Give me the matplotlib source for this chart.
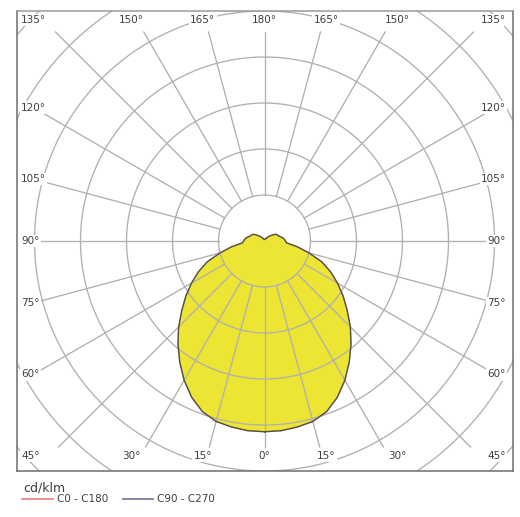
import numpy as np
import matplotlib
matplotlib.use("Agg")
import matplotlib.pyplot as plt
from matplotlib.lines import Line2D

# photometric data, cd/klm, gamma measured from nadir
GAMMA = list(range(0, 185, 5))
C0_C180 = [311, 310.5, 308, 304.5, 296, 281, 262, 241, 219.5, 198, 176,
           156.5, 137.5, 119, 99.5, 75, 54.5, 36.5, 34, 32.5, 30, 27, 24.5,
           23, 22, 18, 14, 11, 8, 6.5, 5, 4, 3, 2.5, 2.5, 2.5, 2.5]
C90_C270 = [311, 310.5, 308, 305, 296.5, 281.5, 262.5, 241, 219.5, 198, 176,
            156.5, 137.5, 119, 99.5, 75, 54.5, 36.5, 34, 32.5, 30, 27, 24.5,
            23, 22, 18, 14, 11, 8, 6.5, 5, 4, 3, 2.5, 2.5, 2.5, 2.5]
RINGS = [75, 150, 225, 300, 375, 450, 525, 600]
ANGLE_STEP = 15

PX = 75 / 46.0  # cd/klm per pixel
GRID = "#b0b0b0"
TEXT = "#3e3e3e"


def curve_xy(gamma, values):
    g = np.radians(gamma)
    v = np.asarray(values, dtype=float)
    x = np.concatenate([v * np.sin(g), (-v * np.sin(g))[::-1]])
    y = np.concatenate([-v * np.cos(g), (-v * np.cos(g))[::-1]])
    return x, y


def ray_end(sx, sy, half_w_left, half_w_right, top, bottom):
    ts = []
    if sx > 1e-9:
        ts.append(half_w_right / sx)
    if sx < -1e-9:
        ts.append(half_w_left / -sx)
    if sy > 1e-9:
        ts.append(top / sy)
    if sy < -1e-9:
        ts.append(bottom / -sy)
    return min(ts)


fig = plt.figure(figsize=(5.2, 5.17), dpi=100)
ax = fig.add_axes([17 / 520, 46 / 517, 496 / 520, 460 / 517])
ax.set_xlim(-247.5 * PX, 248.5 * PX)
ax.set_ylim(-230 * PX, 230 * PX)
ax.set_xticks([])
ax.set_yticks([])
for name, spine in ax.spines.items():
    spine.set_color("#9a9a9a" if name == "top" else "#6e6e6e")
    spine.set_linewidth(1.1)

# light distribution fill
x0, y0 = curve_xy(GAMMA, C0_C180)
ax.fill(x0, y0, color="#ece533", zorder=1, linewidth=0)

# rings
t = np.linspace(0, 2 * np.pi, 721)
for r in RINGS:
    ax.plot(r * np.cos(t), r * np.sin(t), color=GRID, linewidth=0.95, zorder=2)

# radial lines and angle labels
for deg in range(0, 360, ANGLE_STEP):
    phi = np.radians(deg)
    sx, sy = np.sin(phi), -np.cos(phi)
    tend = ray_end(sx, sy, 223.5 * PX, 222.5 * PX, 209 * PX, 206 * PX)
    ax.plot([RINGS[0] * sx, tend * sx], [RINGS[0] * sy, tend * sy],
            color=GRID, linewidth=0.95, zorder=2)

    label = f"{deg if deg <= 180 else 360 - deg}°"
    box = dict(boxstyle="square,pad=0.12", fc="white", ec="none")
    corner = abs(abs(sx) - abs(sy)) < 1e-6
    if corner or abs(sx) > abs(sy):
        # side / corner labels
        ly = sy / abs(sx) * 231 * PX
        if corner:
            ly = (-215 if sy < 0 else 221) * PX
        if sx < 0:
            ax.text(-243.5 * PX, ly, label, ha="left", va="center",
                    fontsize=7.5, color=TEXT, bbox=box, zorder=5)
        else:
            ax.text(241.5 * PX, ly, label, ha="right", va="center",
                    fontsize=7.5, color=TEXT, bbox=box, zorder=5)
    else:
        lx = sx / abs(sy) * 230 * PX
        ly = (-215 if sy < 0 else 221) * PX
        ax.text(lx, ly, label, ha="center", va="center",
                fontsize=7.5, color=TEXT, bbox=box, zorder=5)

# curve outlines
x9, y9 = curve_xy(GAMMA, C90_C270)
ax.plot(x9, y9, color="#7c7c9c", linewidth=0.8, alpha=0.6, zorder=3)
ax.plot(x0, y0, color="#5a4d45", linewidth=1.0, zorder=4)

# legend
fig.text(23 / 520, 1 - 488 / 517, "cd/klm", fontsize=9, color=TEXT,
         ha="left", va="center")
ly = 1 - 499 / 517
fig.add_artist(Line2D([22 / 520, 53 / 520], [ly, ly], color="#e58a8a",
                      linewidth=1.3))
fig.text(57 / 520, ly, "C0 - C180", fontsize=7.5, color=TEXT,
         ha="left", va="center")
fig.add_artist(Line2D([123 / 520, 153 / 520], [ly, ly], color="#7c7c9c",
                      linewidth=1.3))
fig.text(157 / 520, ly, "C90 - C270", fontsize=7.5, color=TEXT,
         ha="left", va="center")

fig.savefig("out.png", dpi=100, facecolor="white")
